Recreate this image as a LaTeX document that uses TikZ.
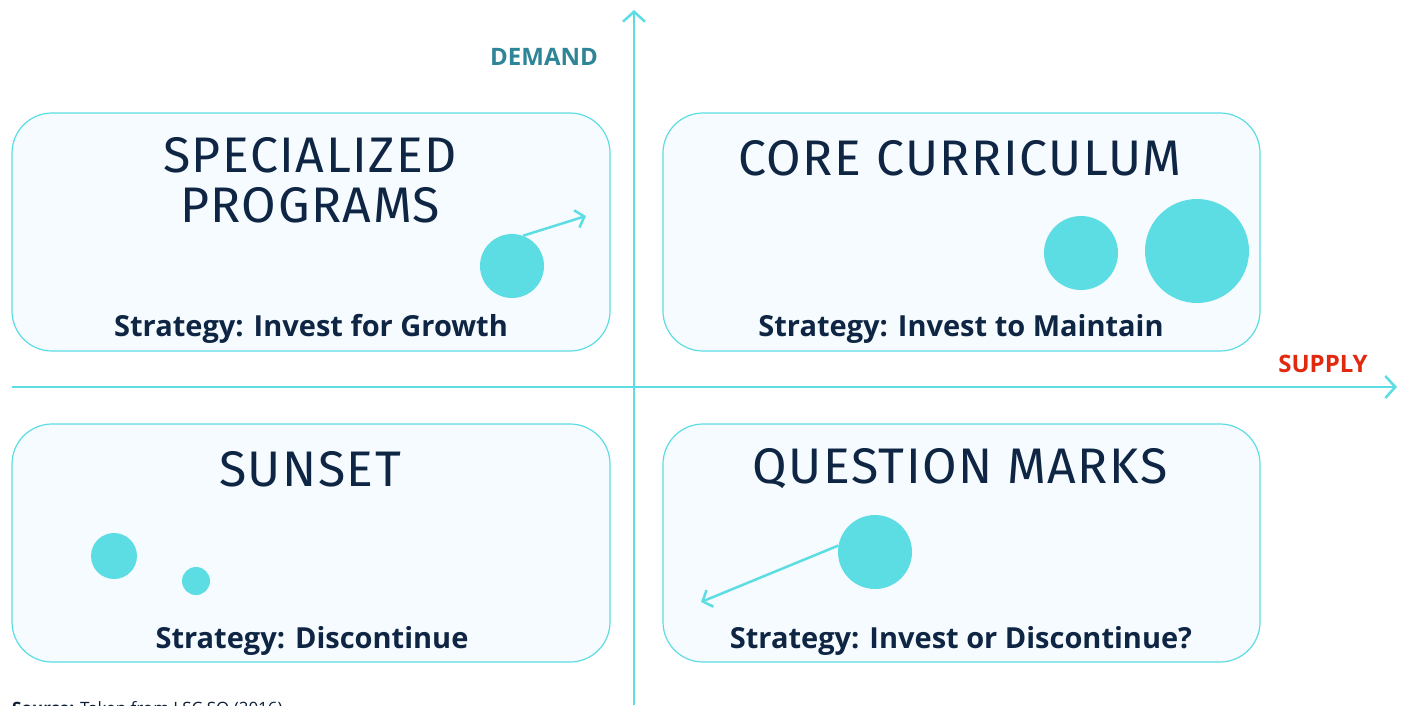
\documentclass[tikz,border=0pt]{standalone}
\usepackage{fontspec}
\setmainfont{Open Sans}
\newfontfamily\titlefont[LetterSpace=3]{Fira Sans}
\usetikzlibrary{arrows.meta}
\definecolor{cyanline}{HTML}{5CDDE4}
\definecolor{boxfill}{HTML}{F5FBFE}
\definecolor{navy}{HTML}{0F2544}
\definecolor{demandcol}{HTML}{2E8598}
\definecolor{supplycol}{HTML}{E0290F}
\tikzset{
  quadbox/.style={draw=cyanline, line width=1.2pt, fill=boxfill, rounded corners=40pt},
  quadtitle/.style={text=navy, font=\titlefont\fontsize{50}{50}\selectfont, align=center},
  strategy/.style={text=navy, font=\bfseries\fontsize{29}{32}\selectfont},
  blob/.style={circle, fill=cyanline, inner sep=0pt},
  axisarrow/.style={draw=cyanline, line width=2.5pt, -{Straight Barb[length=10pt, width=22pt, line width=2.5pt]}},
  moveline/.style={draw=cyanline, line width=2.5pt, -{Straight Barb[length=8pt, width=18pt, line width=2.5pt]}},
}
\begin{document}
\begin{tikzpicture}[x=1pt, y=-1pt]
  \useasboundingbox (0,0) rectangle (1405,705);
  % quadrants
  \draw[quadbox] (12,113) rectangle (610,351);
  \draw[quadbox] (663,113) rectangle (1260,351);
  \draw[quadbox] (12,424) rectangle (610,662);
  \draw[quadbox] (663,424) rectangle (1260,662);
  % axes
  \coordinate (ybot) at (634,705);
  \coordinate (ytop) at (634,10);
  \coordinate (xleft) at (12,387);
  \coordinate (xright) at (1397,387);
  \draw[axisarrow] (ybot) -- (ytop);
  \draw[axisarrow] (xleft) -- (xright);
  \node[text=demandcol, font=\bfseries\fontsize{24}{26}\selectfont] (demand) at (544,57) {DEMAND};
  \node[text=supplycol, font=\bfseries\fontsize{24}{26}\selectfont] (supply) at (1323,364) {SUPPLY};
  % titles
  \node[quadtitle] (special) at (310,180) {SPECIALIZED\\PROGRAMS};
  \node[quadtitle] (core) at (960,158) {CORE CURRICULUM};
  \node[quadtitle] (sunset) at (310,469) {SUNSET};
  \node[quadtitle] (question) at (960,469) {QUESTION MARKS};
  % strategies
  \node[strategy] (growth) at (311,329) {Strategy: Invest for Growth};
  \node[strategy] (maintain) at (961,329) {Strategy: Invest to Maintain};
  \node[strategy] (discont) at (312,641) {Strategy: Discontinue};
  \node[strategy] (investor) at (961,641) {Strategy: Invest or Discontinue?};
  % programs
  \node[blob, minimum size=64pt] (sp1) at (512,266) {};
  \node[blob, minimum size=74pt] (cc1) at (1081,253) {};
  \node[blob, minimum size=104pt] (cc2) at (1197,251) {};
  \node[blob, minimum size=46pt] (su1) at (114,556) {};
  \node[blob, minimum size=28pt] (su2) at (196,581) {};
  \node[blob, minimum size=74pt] (qm1) at (875,552) {};
  \coordinate (sptarget) at (586,216);
  \coordinate (qmtarget) at (701,602);
  \draw[moveline] (sp1.70) -- (sptarget);
  \draw[moveline] (qm1.170) -- (qmtarget);
  % source
  \node[anchor=base west, text=navy!80!black, font=\fontsize{17}{19}\selectfont, inner sep=0pt] (source) at (12,714) {\textbf{Source:} Taken from LSC SO (2016)};
\end{tikzpicture}
\end{document}
